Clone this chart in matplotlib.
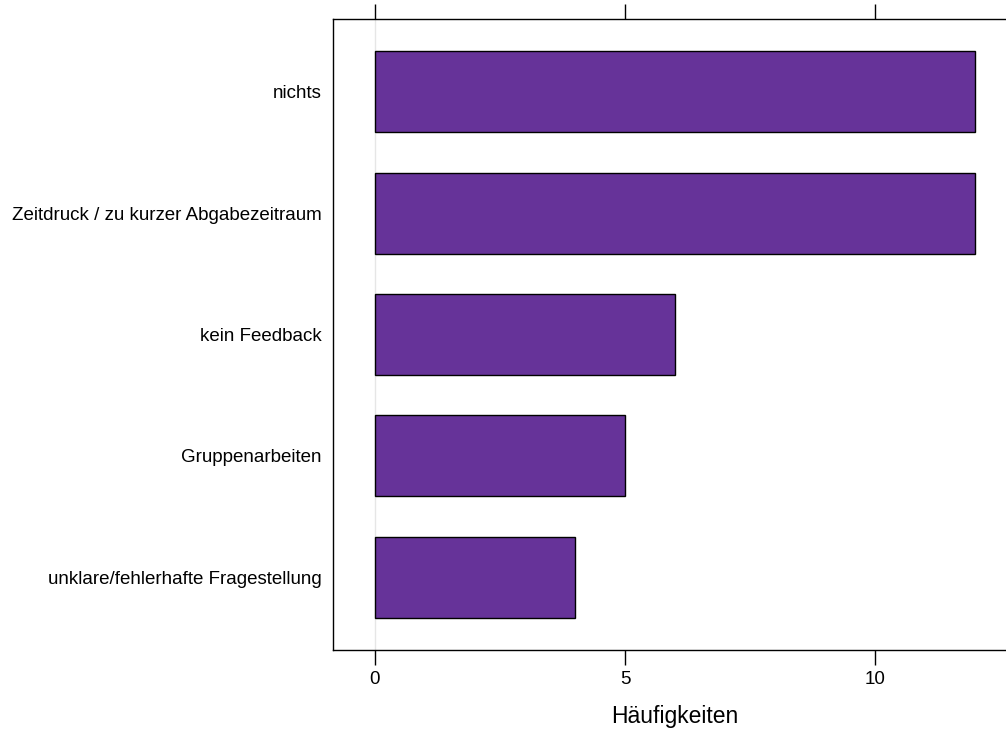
import matplotlib.pyplot as plt

plt.rcParams['font.family'] = ['Liberation Sans', 'DejaVu Sans']

categories = [
    "unklare/fehlerhafte Fragestellung",
    "Gruppenarbeiten",
    "kein Feedback",
    "Zeitdruck / zu kurzer Abgabezeitraum",
    "nichts",
]
counts = [4, 5, 6, 12, 12]
xticks = [0, 5, 10]

fig = plt.figure(figsize=(10.06, 7.31), dpi=100)
# axes box: left 333px, right ~1017px (cut off), top 19px, bottom 650px
ax = fig.add_axes([333 / 1006, 1 - 650 / 731, (1017 - 333) / 1006, (650 - 19) / 731])

ypos = list(range(1, len(categories) + 1))
ax.axvline(0, color="#e6e6e6", lw=1, zorder=0)
ax.barh(ypos, counts, height=2 / 3, color="#663399", edgecolor="black", lw=1, zorder=2)

ax.set_xlim(-0.84, 12.84)
ax.set_ylim(0.4, 5.6)
ax.set_yticks(ypos)
ax.set_yticklabels(categories, fontsize=13.5)
ax.tick_params(axis="y", length=0, pad=8)
ax.set_xticks(xticks)
ax.tick_params(axis="x", top=True, labeltop=False, direction="out", length=11, width=1,
               labelsize=13.5, pad=4)
for s in ax.spines.values():
    s.set_linewidth(1)
ax.set_xlabel("Häufigkeiten", fontsize=16.5, labelpad=12)

fig.savefig("out.png", dpi=100)
